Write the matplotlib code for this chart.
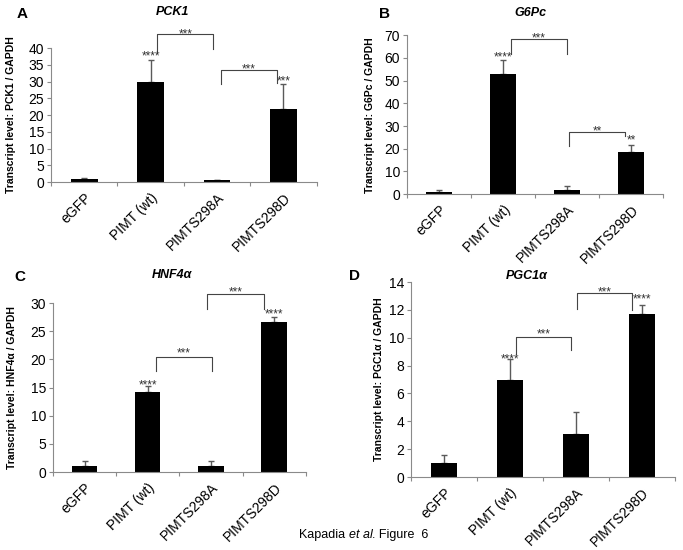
import matplotlib
matplotlib.use("Agg")
import matplotlib.pyplot as plt
import matplotlib.transforms as mtransforms
import numpy as np
from matplotlib.offsetbox import TextArea, HPacker, AnchoredOffsetbox

plt.rcParams['font.family'] = ['Liberation Sans', 'DejaVu Sans']

categories = ["eGFP", "PIMT (wt)", "PIMTS298A", "PIMTS298D"]

pck1_vals = [1.0, 30.0, 0.5, 21.7]
pck1_err = [0.3, 6.5, 0.2, 7.5]
g6pc_vals = [1.0, 53.0, 2.0, 18.7]
g6pc_err = [0.9, 6.0, 1.6, 3.0]
hnf4a_vals = [1.0, 14.2, 1.0, 26.7]
hnf4a_err = [1.0, 1.0, 1.0, 0.9]
pgc1a_vals = [1.0, 7.0, 3.1, 11.7]
pgc1a_err = [0.6, 1.5, 1.55, 0.65]

# bar stars: (bar index, text, y of visual centre)
pck1_stars = [(1, "****", 38.6), (3, "***", 31.3)]
g6pc_stars = [(1, "****", 62.0), (3, "**", 25.2)]
hnf4a_stars = [(1, "****", 16.0), (3, "****", 28.7)]
pgc1a_stars = [(1, "****", 8.7), (3, "****", 13.0)]

# brackets: (x_left, x_right, y_top, y_left_bottom, y_right_bottom, text, y of text centre)
pck1_brackets = [(1.1, 1.94, 44.1, 38.4, 39.6, "***", 45.1),
                 (2.06, 2.9, 33.6, 29.3, 29.5, "***", 34.9)]
g6pc_brackets = [(1.12, 2.0, 68.2, 61.6, 61.6, "***", 70.4),
                 (2.03, 2.91, 27.3, 21.0, 25.4, "**", 29.2)]
hnf4a_brackets = [(1.13, 2.02, 20.5, 18.0, 18.0, "***", 21.7),
                  (1.94, 2.84, 31.7, 28.9, 29.0, "***", 32.5)]
pgc1a_brackets = [(1.09, 1.93, 10.07, 8.8, 9.1, "***", 10.48),
                  (2.01, 2.85, 13.19, 12.1, 12.0, "***", 13.5)]

fig = plt.figure(figsize=(6.83, 5.5), dpi=100)

panels = [
    dict(rect=[0.0747, 0.669, 0.389, 0.2436], vals=pck1_vals, err=pck1_err, ymax=40, step=5,
         ylabel="Transcript level: PCK1 / GAPDH", stars=pck1_stars, brackets=pck1_brackets, lx=-0.132),
    dict(rect=[0.596, 0.647, 0.375, 0.289], vals=g6pc_vals, err=g6pc_err, ymax=70, step=10,
         ylabel="Transcript level: G6Pc / GAPDH", stars=g6pc_stars, brackets=g6pc_brackets, lx=-0.125),
    dict(rect=[0.0776, 0.1418, 0.370, 0.307], vals=hnf4a_vals, err=hnf4a_err, ymax=30, step=5,
         ylabel="Transcript level: HNF4\u03b1 / GAPDH", stars=hnf4a_stars, brackets=hnf4a_brackets, lx=-0.142),
    dict(rect=[0.6018, 0.1327, 0.3865, 0.3545], vals=pgc1a_vals, err=pgc1a_err, ymax=14, step=2,
         ylabel="Transcript level: PGC1\u03b1 / GAPDH", stars=pgc1a_stars, brackets=pgc1a_brackets, lx=-0.102),
]

spine_c = "#8a8a8a"
star_fs = 8.5
star_c = "#333333"


def star(ax, x, y, t):
    ax.annotate(t, xy=(x, y), xytext=(0, -0.58 * star_fs), textcoords="offset points",
                ha="center", va="baseline", fontsize=star_fs, color=star_c, annotation_clip=False)


shift = mtransforms.ScaledTranslation(4 / 100, 0, fig.dpi_scale_trans)

for p in panels:
    ax = fig.add_axes(p["rect"])
    x = np.arange(len(categories))
    ax.bar(x, p["vals"], width=0.4, color="black", zorder=2)
    ax.errorbar(x, p["vals"], yerr=[np.zeros(len(x)), p["err"]], fmt="none",
                ecolor="#5a5a5a", elinewidth=1.0, capsize=2.5, capthick=1.0, zorder=1)
    ax.set_xlim(-0.5, 3.5)
    ax.set_ylim(0, p["ymax"])
    ax.set_yticks(np.arange(0, p["ymax"] + 0.1, p["step"]))
    ax.set_xticks(x)
    ax.set_xticklabels(categories, rotation=45, ha="right", rotation_mode="anchor", fontsize=10)
    for lab in ax.get_xticklabels():
        lab.set_transform(lab.get_transform() + shift)
    ax.tick_params(axis="x", length=0, pad=6)
    ax.set_xticks(np.arange(-0.5, 3.6, 1.0), minor=True)
    ax.tick_params(axis="x", which="minor", length=3, color=spine_c, width=0.8)
    ax.tick_params(axis="y", length=3, color=spine_c, width=0.8, labelsize=10, pad=2)
    for s in ["top", "right"]:
        ax.spines[s].set_visible(False)
    for s in ["left", "bottom"]:
        ax.spines[s].set_color(spine_c)
        ax.spines[s].set_linewidth(0.8)
    ax.set_ylabel(p["ylabel"], fontsize=7.5, fontweight="bold")
    ax.yaxis.set_label_coords(p["lx"], 0.5)
    for i, t, yy in p["stars"]:
        star(ax, i, yy, t)
    for xl, xr, yt, ybl, ybr, t, ys in p["brackets"]:
        ax.plot([xl, xl, xr, xr], [ybl, yt, yt, ybr], color="#444444", lw=0.8, clip_on=False)
        star(ax, (xl + xr) / 2, ys, t)

# panel letters and titles
for lx, ly, lt in [(22, 14, "A"), (384, 14, "B"), (20, 277, "C"), (354, 276, "D")]:
    fig.text(lx / 683, 1 - ly / 550, lt, fontsize=11, fontweight="bold", ha="center", va="center")
for tx, ty, tt in [(172, 12, "PCK1"), (530, 13, "G6Pc"), (172, 275, "HNF4\u03b1"), (527, 276, "PGC1\u03b1")]:
    fig.text(tx / 683, 1 - ty / 550, tt, fontsize=9, fontweight="bold", style="italic",
             ha="center", va="center")

# footer with italic part
parts = [TextArea("Kapadia ", textprops=dict(fontsize=9)),
         TextArea("et al", textprops=dict(fontsize=9, style="italic")),
         TextArea(". Figure  6", textprops=dict(fontsize=9))]
box = HPacker(children=parts, align="baseline", pad=0, sep=0)
anch = AnchoredOffsetbox(loc="center", child=box, frameon=False,
                         bbox_to_anchor=(364 / 683, 1 - 535 / 550), bbox_transform=fig.transFigure,
                         borderpad=0)
fig.add_artist(anch)

fig.savefig("out.png", dpi=100)
